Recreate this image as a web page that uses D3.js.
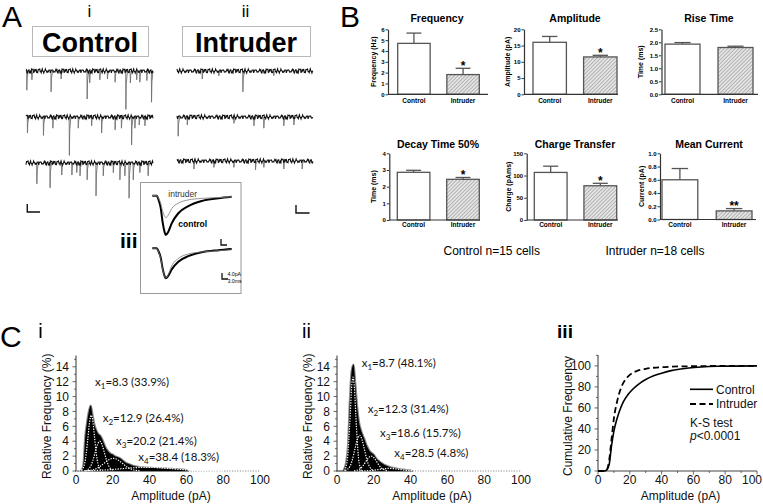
<!DOCTYPE html>
<html><head><meta charset="utf-8">
<script src="https://cdn.jsdelivr.net/npm/d3@7/dist/d3.min.js"></script>
<style>
html,body{margin:0;padding:0;background:#fff;}
svg{display:block;}
</style></head><body>
<svg id="fig" width="763" height="504" xmlns="http://www.w3.org/2000/svg"></svg>
<script>
// ================= DATA =================
const groups = ["Control", "Intruder"];

// Panel A i/ii : sweeps, events as [time (% of sweep), amplitude (pA)]
const ctrlSweepEvents = [
  [[0.5,24],[4.5,11],[19.6,26],[27.5,10],[48,35],[50,15],[58,11],[64,10],[70,14],[78.5,48],[82,15],[87,11],[89.5,14],[95,12],[98.7,39]],
  [[1,20],[13.6,23],[21,14],[34,48],[41,14],[51.5,11],[59.4,20],[70,16],[75,14],[83,35],[85.6,14],[89,10],[93.5,11]],
  [[8.4,26],[18.8,31],[28,15],[36,15],[39.8,12],[42.4,16],[48,21],[55,41],[60.7,16],[68.6,12],[73.8,21],[77.7,16],[81,44],[84.3,21],[89.5,12],[96,16]]
];
const intrSweepEvents = [
  [[18.4,10],[30.6,6],[48.3,26],[71,6]],
  [[0.7,24],[7.4,10],[41.7,8],[56.4,11],[63.7,14],[78.4,11],[85.8,10]],
  [[12.3,10],[27,8],[41.7,8],[57.6,11],[63.7,8],[78.4,10],[91.9,10]]
];
const baselineNoise = [0.6,-1.7,2.1,-0.4,1.3,-2.5,0.3,1.5,-1.0,2.6,-2.0,0.8,-0.3,1.8,-2.2,1.1,-0.7,2.4,-1.4,0.1,
  2.0,-2.6,1.0,-0.6,1.7,-1.3,2.5,-1.8,0.4,1.3,-2.1,2.2,-0.8,0.7,-1.5,1.4,-2.4,0.6,2.1,-1.1,
  0.3,-2.0,1.5,-0.1,2.6,-1.7,0.8,-1.3,1.8,-2.2,1.1,0.0,-1.4,2.2,-0.4,1.7,-2.5,1.0,-0.7,1.4];

// Panel A iii : averaged events
const avgTime     = [-2.2, 0, 1, 2, 3, 4, 4.5, 5.8, 7.5, 10.8, 15.8, 22.5, 30.8, 37.5];
const avgControl  = [0, 0, -3, -8, -18, -24.5, -26.2, -24, -18.4, -11.7, -6.9, -3.5, -1.7, -0.7];
const avgIntruder = [0, 0, -2, -5, -10.5, -13.8, -14.7, -12.9, -8.6, -5.0, -2.8, -1.8, -1.2, -0.7];

// Panel B
const barTitles  = ["Frequency","Amplitude","Rise Time","Decay Time 50%","Charge Transfer","Mean Current"];
const barYLabels = ["Frequency (Hz)","Amplitude (pA)","Time (ms)","Time (ms)","Charge (pAms)","Current (pA)"];
const barMeans   = [[4.7,1.82],[16.0,11.5],[1.93,1.80],[2.86,2.44],[107,77],[0.60,0.13]];
const barErrors  = [[0.95,0.58],[1.8,0.5],[0.06,0.05],[0.12,0.11],[14,5.5],[0.17,0.035]];
const barYMax    = [6,20,2.5,4,150,1.0];
const barTicks   = [[0,1,2,3,4,5,6],[0,5,10,15,20],[0,0.5,1,1.5,2,2.5],[0,1,2,3,4],[0,50,100,150],[0,0.2,0.4,0.6,0.8,1.0]];
const barTickFmt = ["d","d",".1f","d","d",".1f"];
const barSig     = ["*","*","","*","*","**"];
const cellCounts = [15, 18];

// Panel C i/ii : amplitude histograms (1 pA bins, relative frequency %)
const histControl  = [0,0,0,0.1,0.8,4.5,6.5,8.0,8.8,7.5,6.2,5.5,5.0,4.8,4.4,3.8,3.2,2.8,2.5,2.3,2.2,2.0,1.9,1.8,1.7,1.5,1.3,1.1,1.0,0.9,
  0.8,0.7,0.65,0.6,0.55,0.5,0.5,0.48,0.46,0.45,0.44,0.42,0.4,0.4,0.38,0.36,0.35,0.34,0.33,0.32,0.3,0.3,0.28,0.26,0.25,0.24,0.22,0.2,0.18,0.15,0.1,0];
const histIntruder = [0,0,0,0,0.3,1.2,3.5,9.5,13.5,14.3,11.5,8.5,6.5,5.5,4.8,4.2,3.5,3.0,2.6,2.4,2.2,1.8,1.5,1.3,1.1,0.95,0.8,0.7,0.6,0.5,
  0.45,0.4,0.35,0.3,0.25,0.2,0.18,0.15,0.1,0.08,0.05,0];
const compMeansCtrl = [8.3,12.9,20.2,38.4], compPctCtrl = [33.9,26.4,21.4,18.3];
const compMeansIntr = [8.7,12.3,18.6,28.5], compPctIntr = [48.1,31.4,15.7,4.8];
const compCurvesCtrl = [
  [[3,0.1],[4.7,1.0],[5.6,2.4],[6.5,4.5],[7.4,6.6],[8.3,7.5],[9.2,6.6],[10.1,4.5],[11,2.4],[11.9,1.0],[13.6,0.1]],
  [[5.1,0.04],[7.7,0.54],[9,1.3],[10.3,2.4],[11.6,3.5],[12.9,4.0],[14.2,3.5],[15.5,2.4],[16.8,1.3],[18.1,0.54],[20.7,0.04]],
  [[5,0.02],[10.2,0.23],[12.7,0.55],[15.2,1.03],[17.7,1.5],[20.2,1.7],[22.7,1.5],[25.2,1.03],[27.7,0.55],[30.2,0.23],[35,0.02]],
  [[0,0.01],[10,0.07],[17.4,0.16],[24.4,0.3],[31.4,0.44],[38.4,0.5],[45.4,0.44],[52.4,0.3],[59.4,0.16],[66.8,0.07],[80,0.01]]
];
const compCurvesIntr = [
  [[4.1,0.04],[5.7,1.7],[6.4,4.1],[7.2,7.6],[7.9,11.1],[8.7,12.6],[9.5,11.1],[10.2,7.6],[11.0,4.1],[11.7,1.7],[13.3,0.04]],
  [[4.5,0.05],[7.1,0.65],[8.4,1.56],[9.7,2.9],[11,4.2],[12.3,4.8],[13.6,4.2],[14.9,2.9],[16.2,1.56],[17.5,0.65],[20.1,0.05]],
  [[9.3,0.02],[12.4,0.27],[14,0.65],[15.5,1.2],[17.1,1.76],[18.6,2.0],[20.1,1.76],[21.7,1.2],[23.2,0.65],[24.8,0.27],[27.9,0.02]],
  [[12,0],[17.5,0.05],[20.3,0.11],[23,0.21],[25.8,0.31],[28.5,0.35],[31.2,0.31],[34,0.21],[36.7,0.11],[39.5,0.05],[45,0]]
];

// Panel C iii : cumulative distributions
const cumAmplitude = [0,4,5.5,7,8.5,10,12,14,16,19,22,25,30,35,40,46,52,57,65,75,100];
const cumControl   = [0,0,1,6,24,38,50,59,66,73,78,82,87,90.5,93,95.5,97,98,99,99.6,100];
const cumIntruder  = [0,0,1,10,30,50,66,77,84,90,93.5,95.5,97.2,98.2,98.8,99.2,99.5,99.6,99.8,99.9,100];

const ampTicks = [0,20,40,60,80,100];
const relTicks = [0,2,4,6,8,10,12,14];
const cumTicks = [0,20,40,60,80,100];

// ================= DRAW =================
const F = '"Liberation Sans", Arial, Helvetica, sans-serif';
const svg = d3.select("#fig");
svg.append("rect").attr("width",763).attr("height",504).attr("fill","#fff");

const defs = svg.append("defs");
const pat = defs.append("pattern").attr("id","hatch").attr("patternUnits","userSpaceOnUse")
  .attr("width",2.6).attr("height",2.6).attr("patternTransform","rotate(45)");
pat.append("rect").attr("width",2.6).attr("height",2.6).attr("fill","#e4e4e4");
pat.append("line").attr("x1",0).attr("y1",0).attr("x2",0).attr("y2",2.6).attr("stroke","#7a7a7a").attr("stroke-width",0.9);

function T(g, x, y, s, o = {}) {
  const t = g.append("text").attr("x",x).attr("y",y).text(s)
    .attr("font-family", o.family || F).attr("font-size", o.size || 12)
    .attr("fill", o.fill || "#000").attr("text-anchor", o.anchor || "start");
  if (o.weight) t.attr("font-weight", o.weight);
  if (o.style) t.attr("font-style", o.style);
  if (o.rotate) t.attr("transform", `rotate(${o.rotate},${x},${y})`);
  return t;
}

// ---------- Panel A ----------
const A = svg.append("g");
T(A, 2, 27, "A", {size: 30});
T(A, 89.5, 17, "i", {size: 17, anchor: "middle"});
T(A, 245.5, 17, "ii", {size: 17, anchor: "middle"});
[[32, 148, 90, "Control"], [182, 310, 246, "Intruder"]].forEach(([x0, x1, cx, lab]) => {
  A.append("rect").attr("x", x0 + 0.5).attr("y", 26.5).attr("width", x1 - x0).attr("height", 30)
    .attr("fill", "none").attr("stroke", "#b8b8b8").attr("stroke-width", 1);
  T(A, cx, 51.5, lab, {size: 27, weight: "bold", anchor: "middle"});
});

function drawSweeps(events, x0, x1, baselines, noiseOff) {
  const xs = d3.scaleLinear().domain([0, 100]).range([x0, x1]);
  events.forEach((evs, r) => {
    const ys = d3.scaleLinear().domain([0, -10]).range([baselines[r], baselines[r] + 8]);
    evs.forEach(([t, amp]) => {
      const pts = [[t, 0], [t + 0.15, -amp], [t + 0.45, -amp * 0.35], [t + 1.3, 0]];
      A.append("path").attr("d", d3.line().x(d => xs(d[0])).y(d => ys(d[1]))(pts))
        .attr("fill", "none").attr("stroke", "#707070").attr("stroke-width", 0.9);
    });
    const samples = d3.range(0, 100.01, 0.4).map((t, i) => [t, baselineNoise[(i * 7 + noiseOff[r]) % baselineNoise.length]]);
    A.append("path").attr("d", d3.line().x(d => xs(d[0])).y(d => ys(d[1]))(samples))
      .attr("fill", "none").attr("stroke", "#111").attr("stroke-width", 1.1);
  });
  return xs;
}
const xsC = drawSweeps(ctrlSweepEvents, 26, 153, [71, 117, 163], [0, 17, 41]);
const xsI = drawSweeps(intrSweepEvents, 177, 313, [71, 117, 161], [9, 29, 53]);
function Lbar(g, x, y, w, h, sw) {
  g.append("path").attr("d", `M${x},${y - h}V${y}H${x + w}`).attr("fill", "none")
    .attr("stroke", "#111").attr("stroke-width", sw || 1.4);
}
{
  const ysSB = d3.scaleLinear().domain([0, -10]).range([204, 212]);
  Lbar(A, xsC(1), ysSB(-10), xsC(11) - xsC(1), ysSB(-10) - ysSB(0));
  const ysSB2 = d3.scaleLinear().domain([0, -10]).range([205, 213]);
  Lbar(A, xsI(87.5), ysSB2(-10), xsI(97.5) - xsI(87.5), ysSB2(-10) - ysSB2(0));
}

// inset iii
A.append("rect").attr("x", 140.5).attr("y", 182.5).attr("width", 100.5).attr("height", 111)
  .attr("fill", "#fff").attr("stroke", "#999").attr("stroke-width", 1);
T(A, 120, 248, "iii", {size: 21, weight: "bold"});
{
  const xi = d3.scaleLinear().domain([-2.2, 37.5]).range([152.3, 231.7]);
  const yTop = d3.scaleLinear().domain([0, -4]).range([195.7, 201.7]);
  const ctrlPeak = d3.min(avgControl), intrPeak = d3.min(avgIntruder);
  const yBot = d3.scaleLinear().domain([0, ctrlPeak]).range([248.3, 278.3]);
  const mk = (ys, arr, k = 1) => d3.line().curve(d3.curveMonotoneX).x((d, i) => xi(avgTime[i])).y((d) => ys(d * k))(arr);
  A.append("path").attr("d", mk(yTop, avgControl)).attr("fill", "none").attr("stroke", "#000").attr("stroke-width", 2);
  A.append("path").attr("d", mk(yTop, avgIntruder)).attr("fill", "none").attr("stroke", "#888").attr("stroke-width", 0.9);
  A.append("path").attr("d", mk(yBot, avgControl)).attr("fill", "none").attr("stroke", "#000").attr("stroke-width", 2);
  A.append("path").attr("d", mk(yBot, avgIntruder, ctrlPeak / intrPeak)).attr("fill", "none").attr("stroke", "#777").attr("stroke-width", 0.8);
  T(A, 168.3, 196.5, "intruder", {size: 8.5, fill: "#333"});
  T(A, 178.3, 226.5, "control", {size: 8.5, weight: "bold"});
  const sbW = xi(3) - xi(0), sbH = yTop(-4) - yTop(0);
  Lbar(A, 221, 245, sbW, sbH, 1.3);
  Lbar(A, 222, 279, sbW, sbH, 1.3);
  T(A, 227.5, 276, "4.0pA", {size: 5.2});
  T(A, 227.5, 282.5, "3.0ms", {size: 5.2});
}

// ---------- Panel B ----------
const B = svg.append("g");
T(B, 340, 27, "B", {size: 30});
const barLayout = [
  {ax: 388,   end: 488, b0: 397.7, b1: 479.3, top: 29.3,  bot: 94.3,  tx: 437, ty: 21.7,  yl: 376},
  {ax: 524,   end: 618, b0: 533,   b1: 617,   top: 29.3,  bot: 94.3,  tx: 575, ty: 21.7,  yl: 510.5},
  {ax: 661.5, end: 758, b0: 665,   b1: 753,   top: 29.3,  bot: 94.3,  tx: 709, ty: 21.7,  yl: 643},
  {ax: 389.3, end: 480, b0: 397.3, b1: 479.3, top: 153.3, bot: 220,   tx: 438, ty: 148.3, yl: 376},
  {ax: 526.7, end: 618, b0: 534.3, b1: 616.7, top: 153.3, bot: 220,   tx: 575, ty: 148.3, yl: 511},
  {ax: 660,   end: 756, b0: 662,   b1: 752,   top: 153.3, bot: 219.5, tx: 709, ty: 148.3, yl: 644}
];
barTitles.forEach((title, k) => {
  const L = barLayout[k];
  const g = B.append("g");
  const y = d3.scaleLinear().domain([0, barYMax[k]]).range([L.bot, L.top]);
  const x = d3.scaleBand().domain(groups).range([L.b0, L.b1]).paddingInner(0.34).paddingOuter(0);
  const bw = x.bandwidth();
  groups.forEach((grp, j) => {
    const m = barMeans[k][j], e = barErrors[k][j], cx = x(grp) + bw / 2;
    g.append("line").attr("x1", cx).attr("x2", cx).attr("y1", y(m)).attr("y2", y(m + e))
      .attr("stroke", "#555").attr("stroke-width", 1.3);
    g.append("line").attr("x1", cx - bw * 0.23).attr("x2", cx + bw * 0.23).attr("y1", y(m + e)).attr("y2", y(m + e))
      .attr("stroke", "#555").attr("stroke-width", 1.3);
    g.append("rect").attr("x", x(grp)).attr("y", y(m)).attr("width", bw).attr("height", y(0) - y(m))
      .attr("fill", j === 0 ? "#fff" : "url(#hatch)").attr("stroke", "#555").attr("stroke-width", 1.3);
    T(g, cx, L.bot + (k < 3 ? 8.3 : 7.3), grp, {size: 6.5, weight: "bold", anchor: "middle"});
    if (j === 1 && barSig[k]) T(g, cx, y(m + e) + 1.8, barSig[k], {size: 12, weight: "bold", anchor: "middle"});
  });
  const ax = d3.axisLeft(y).tickValues(barTicks[k]).tickSize(2.5).tickSizeOuter(0).tickPadding(1)
    .tickFormat(d3.format(barTickFmt[k]));
  g.append("g").attr("transform", `translate(${L.ax},0)`).call(ax)
    .call(s => s.select(".domain").attr("stroke", "#333").attr("stroke-width", 1.2))
    .call(s => s.selectAll(".tick line").attr("stroke", "#333").attr("stroke-width", 1))
    .call(s => s.selectAll("text").attr("font-size", 6).attr("font-weight", "bold").attr("font-family", F).attr("fill", "#000"));
  g.append("line").attr("x1", L.ax).attr("x2", L.end).attr("y1", y(0)).attr("y2", y(0))
    .attr("stroke", "#333").attr("stroke-width", 1.2);
  T(g, L.tx, L.ty, title, {size: 10.5, weight: "bold", anchor: "middle"});
  T(g, L.yl, (L.top + L.bot) / 2, barYLabels[k], {size: 7, weight: "bold", anchor: "middle", rotate: -90});
});
T(B, 491.7, 255, `Control n=${cellCounts[0]} cells`, {size: 12, anchor: "middle"});
T(B, 655, 255, `Intruder n=${cellCounts[1]} cells`, {size: 12, anchor: "middle"});

// ---------- Panel C ----------
const C = svg.append("g");
T(C, 0, 347, "C", {size: 30});
T(C, 40.5, 338, "i", {size: 20, anchor: "middle"});
T(C, 306.5, 338, "ii", {size: 20, anchor: "middle"});
T(C, 565, 338, "iii", {size: 19, weight: "bold", anchor: "middle"});

function leftAxis(g, ys, x0, majors, minorStep, yLabel, ylx) {
  const dom = ys.domain();
  g.append("line").attr("x1", x0).attr("x2", x0).attr("y1", ys(0)).attr("y2", ys(dom[1]))
    .attr("stroke", "#444").attr("stroke-width", 1.1);
  d3.range(0, dom[1] + 0.001, minorStep).forEach(v => {
    const maj = majors.includes(+v.toFixed(3));
    g.append("line").attr("x1", x0 - (maj ? 3.5 : 2)).attr("x2", x0).attr("y1", ys(v)).attr("y2", ys(v))
      .attr("stroke", "#444").attr("stroke-width", 0.8);
  });
  majors.forEach(v => T(g, x0 - 7, ys(v) + 4.2, String(v), {size: 12, anchor: "end", fill: "#111"}));
  T(g, ylx, (ys(0) + ys(dom[1])) / 2 + 3, yLabel, {size: 12, anchor: "middle", rotate: -90, fill: "#111"});
}
function xLabels(g, xs, yb, ticks, clampRight) {
  ticks.forEach(v => {
    let x = xs(v), anchor = "middle";
    if (clampRight && x + 10 > clampRight) { x = clampRight; anchor = "end"; }
    T(g, x, yb, String(v), {size: 12, anchor, fill: "#111"});
  });
  T(g, (xs(0) + xs(100)) / 2 + 3, 500, "Amplitude (pA)", {size: 12, anchor: "middle", fill: "#111"});
}
function subLabel(g, x, y, idx, mean, pct) {
  const t = g.append("text").attr("x", x).attr("y", y).attr("font-family", 'Lato, "Open Sans", sans-serif')
    .attr("font-size", 11.5).attr("fill", "#111");
  t.append("tspan").text("x");
  t.append("tspan").attr("dy", 3).attr("font-size", 8).text(idx);
  t.append("tspan").attr("dy", -3).text(`=${mean.toFixed(1)} (${pct.toFixed(1)}%)`);
}
function histPanel(hist, comps, means, pcts, x0, annPos) {
  const g = C.append("g");
  const xs = d3.scaleLinear().domain([0, 100]).range([x0, x0 + 184]);
  const ys = d3.scaleLinear().domain([0, 14]).range([471, 471 - 14 * 8.25]);
  ys.domain([0, ys.invert(343)]);
  g.append("line").attr("x1", xs(0)).attr("x2", xs(100)).attr("y1", ys(0)).attr("y2", ys(0))
    .attr("stroke", "#888").attr("stroke-width", 1).attr("stroke-dasharray", "1.2,1.4");
  const pts = hist.map((v, i) => [i, v]);
  const area = d3.area().curve(d3.curveMonotoneX).x(d => xs(d[0])).y0(ys(0)).y1(d => ys(d[1]));
  g.append("path").attr("d", area(pts)).attr("fill", "#000").attr("stroke", "#8a8a8a").attr("stroke-width", 2.2)
    .attr("stroke-linejoin", "round");
  g.append("path").attr("d", area(pts)).attr("fill", "#000");
  comps.forEach(c => {
    g.append("path").attr("d", d3.line().curve(d3.curveMonotoneX).x(d => xs(d[0])).y(d => ys(d[1]))(c))
      .attr("fill", "none").attr("stroke", "#fff").attr("stroke-width", 1.2).attr("stroke-dasharray", "1.3,1.3");
  });
  leftAxis(g, ys, x0, relTicks, 1, "Relative Frequency (%)", x0 - 25);
  xLabels(g, xs, 483.5, ampTicks);
  means.forEach((m, i) => subLabel(g, annPos[i][0], annPos[i][1], i + 1, m, pcts[i]));
}
histPanel(histControl, compCurvesCtrl, compMeansCtrl, compPctCtrl, 76,
  [[95, 386], [102.7, 421.7], [116, 445], [138.3, 461]]);
histPanel(histIntruder, compCurvesIntr, compMeansIntr, compPctIntr, 337,
  [[361.7, 367.3], [367.7, 412.7], [380, 436.7], [394.3, 457.3]]);

// C iii cumulative
{
  const g = C.append("g");
  const xs = d3.scaleLinear().domain([0, 100]).range([598, 757]);
  const ys = d3.scaleLinear().domain([0, 100]).range([471, 355]);
  ys.domain([0, ys.invert(343)]);
  g.append("line").attr("x1", xs(0)).attr("x2", xs(100)).attr("y1", ys(0)).attr("y2", ys(0))
    .attr("stroke", "#444").attr("stroke-width", 1.1);
  d3.range(0, 101, 10).forEach(v => {
    g.append("line").attr("x1", xs(v)).attr("x2", xs(v)).attr("y1", ys(0)).attr("y2", ys(0) + (v % 20 === 0 ? 3.5 : 2))
      .attr("stroke", "#444").attr("stroke-width", 0.8);
  });
  leftAxis(g, ys, 598, cumTicks, 10, "Cumulative Frequency", 572);
  xLabels(g, xs, 483.5, ampTicks, 762);
  const line = d3.line().curve(d3.curveMonotoneX).x((d, i) => xs(cumAmplitude[i])).y(d => ys(d));
  g.append("path").attr("d", line(cumControl)).attr("fill", "none").attr("stroke", "#000").attr("stroke-width", 1.6);
  g.append("path").attr("d", line(cumIntruder)).attr("fill", "none").attr("stroke", "#000").attr("stroke-width", 1.8)
    .attr("stroke-dasharray", "6,3.5");
  g.append("line").attr("x1", 690).attr("x2", 713).attr("y1", 389.3).attr("y2", 389.3).attr("stroke", "#000").attr("stroke-width", 1.6);
  g.append("line").attr("x1", 690).attr("x2", 713).attr("y1", 404).attr("y2", 404).attr("stroke", "#000").attr("stroke-width", 1.8)
    .attr("stroke-dasharray", "6,3.5");
  T(g, 716, 393.7, groups[0], {size: 12, fill: "#111"});
  T(g, 716, 408.3, groups[1], {size: 12, fill: "#111"});
  T(g, 690, 426.5, "K-S test", {size: 12, fill: "#111"});
  const p = g.append("text").attr("x", 690).attr("y", 440).attr("font-family", F).attr("font-size", 12).attr("fill", "#111");
  p.append("tspan").attr("font-style", "italic").text("p");
  p.append("tspan").text("<0.0001");
}
</script>
</body></html>
